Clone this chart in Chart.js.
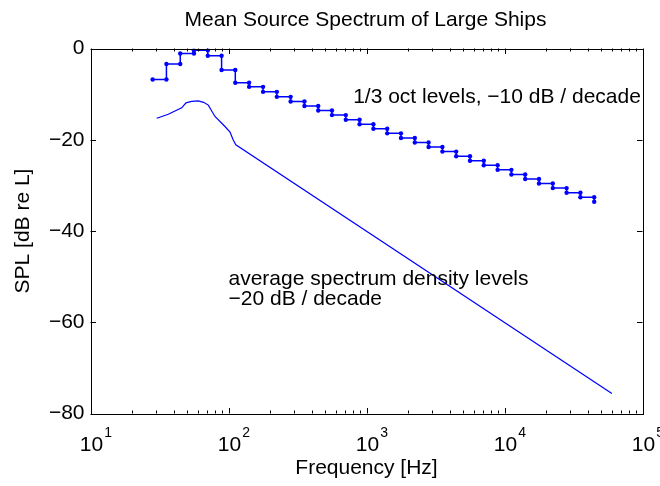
<!DOCTYPE html>
<html>
<head>
<meta charset="utf-8">
<script src="https://cdn.jsdelivr.net/npm/chart.js@4.4.1/dist/chart.umd.min.js"></script>
<style>
html,body{margin:0;padding:0;background:#ffffff;}
#wrap{width:660px;height:486px;position:relative;}
</style>
</head>
<body>
<div id="wrap"><canvas id="c" width="660" height="486"></canvas></div>
<script>
// ---- text ----
const titleText = 'Mean Source Spectrum of Large Ships';
const xAxisTitle = 'Frequency [Hz]';
const yAxisTitle = 'SPL [dB re L]';
const octLabel = '1/3 oct levels, \u221210 dB / decade';
const densityLabelLines = ['average spectrum density levels', '\u221220 dB / decade'];

// ---- ticks ----
const xTickDecades = [1, 2, 3, 4, 5];          // 10^1 ... 10^5
const yTickValues = [0, -20, -40, -60, -80];

// ---- 1/3 octave band levels (stairs: band edge, level) ----
const bandEdgesHz = [28.2, 35.5, 44.7, 56.2, 70.8, 89.1, 112, 141, 178, 224, 282, 355, 447, 562, 708, 891,
  1122, 1413, 1778, 2239, 2818, 3548, 4467, 5623, 7079, 8913, 11220, 14125, 17783, 22387, 28184, 35481, 44668];
const octLevelsDb = [-6.8, -3.4, -1.1, -0.4, -1.6, -4.7, -7.5, -8.4, -9.5, -10.6, -11.6, -12.6, -13.6, -14.6, -15.6, -16.6,
  -17.6, -18.6, -19.6, -20.6, -21.6, -22.6, -23.6, -24.6, -25.6, -26.6, -27.6, -28.6, -29.6, -30.6, -31.6, -32.6, -33.6];

// ---- average spectrum density levels ----
const densityHz = [30.2, 36.6, 45.8, 49.2, 54, 60.4, 66, 71.4, 79.8, 94.3, 102.6, 108, 113, 60000];
const densityDb = [-15.3, -14.4, -13.0, -11.9, -11.6, -11.5, -11.8, -12.4, -14.9, -17.1, -18.3, -20.0, -21.1, -75.6];

// annotation anchors (data coordinates)
const octLabelAt = {x: 800, y: -12.05};
const densityLabelAt = {x: 100, y1: -51.9, y2: -56.3};

// ---- build datasets from the arrays ----
const stairPts = [];
for (let i = 0; i < bandEdgesHz.length - 1; i++) {
  stairPts.push({x: bandEdgesHz[i], y: octLevelsDb[i]});
  stairPts.push({x: bandEdgesHz[i + 1], y: octLevelsDb[i]});
}
stairPts.push({x: bandEdgesHz[bandEdgesHz.length - 1], y: octLevelsDb[octLevelsDb.length - 1]});
const densityPts = densityHz.map((f, i) => ({x: f, y: densityDb[i]}));

const FAM = '"Liberation Sans", Arial, Helvetica, sans-serif';
const BLUE = '#0000ff';

const decor = {
  id: 'decor',
  afterDraw(chart) {
    const {ctx, chartArea: a, scales: {x, y}} = chart;
    ctx.save();
    // axes box
    ctx.strokeStyle = '#000';
    ctx.lineWidth = 1;
    ctx.strokeRect(Math.round(a.left) + 0.5, Math.round(a.top) + 0.5,
      Math.round(a.right) - Math.round(a.left), Math.round(a.bottom) - Math.round(a.top));
    // x ticks (major + minor, inward, top and bottom)
    ctx.beginPath();
    const lo = xTickDecades[0], hi = xTickDecades[xTickDecades.length - 1];
    for (let d = lo; d <= hi; d++) {
      for (let m = 1; m <= 9; m++) {
        if (d === hi && m > 1) break;
        const v = m * Math.pow(10, d);
        const px = Math.round(x.getPixelForValue(v)) + 0.5;
        const len = m === 1 ? 5.5 : 3;
        ctx.moveTo(px, a.bottom); ctx.lineTo(px, a.bottom - len);
        ctx.moveTo(px, a.top); ctx.lineTo(px, a.top + len);
      }
    }
    // y ticks inward, left and right
    yTickValues.forEach(v => {
      const py = Math.round(y.getPixelForValue(v)) + 0.5;
      ctx.moveTo(a.left, py); ctx.lineTo(a.left + 5.5, py);
      ctx.moveTo(a.right, py); ctx.lineTo(a.right - 5.5, py);
    });
    ctx.stroke();

    ctx.fillStyle = '#000';
    // x tick labels 10^k
    xTickDecades.forEach(d => {
      const px = x.getPixelForValue(Math.pow(10, d));
      ctx.font = '21px ' + FAM;
      ctx.textAlign = 'center';
      ctx.textBaseline = 'alphabetic';
      const base = '10';
      const w = ctx.measureText(base).width;
      ctx.fillText(base, px + 1, 451);
      ctx.font = '14px ' + FAM;
      ctx.textAlign = 'left';
      ctx.fillText(String(d), px + 1 + w / 2 + 1, 437);
    });

    // title
    ctx.font = '21px ' + FAM;
    ctx.textAlign = 'center';
    ctx.textBaseline = 'alphabetic';
    ctx.fillText(titleText, (a.left + a.right) / 2 - 1, 26);

    // annotations
    ctx.textAlign = 'left';
    ctx.fillText(octLabel, x.getPixelForValue(octLabelAt.x), y.getPixelForValue(octLabelAt.y));
    ctx.fillText(densityLabelLines[0], x.getPixelForValue(densityLabelAt.x), y.getPixelForValue(densityLabelAt.y1));
    ctx.fillText(densityLabelLines[1], x.getPixelForValue(densityLabelAt.x), y.getPixelForValue(densityLabelAt.y2));
    ctx.restore();
  }
};

new Chart(document.getElementById('c'), {
  type: 'scatter',
  data: {
    datasets: [
      {
        label: '1/3 oct levels',
        data: stairPts,
        showLine: true,
        borderColor: BLUE,
        backgroundColor: BLUE,
        borderWidth: 1.5,
        pointRadius: 2.2,
        pointBorderWidth: 0,
        pointBackgroundColor: BLUE,
        tension: 0
      },
      {
        label: 'average spectrum density levels',
        data: densityPts,
        showLine: true,
        borderColor: BLUE,
        backgroundColor: BLUE,
        borderWidth: 1.2,
        pointRadius: 0,
        tension: 0
      }
    ]
  },
  options: {
    responsive: false,
    devicePixelRatio: 1,
    animation: false,
    layout: {padding: {left: 0, right: 17.5, top: 48.5, bottom: 0}},
    plugins: {legend: {display: false}, tooltip: {enabled: false}, title: {display: false}},
    scales: {
      x: {
        type: 'logarithmic',
        min: 10,
        max: 100000,
        grid: {display: false, drawTicks: false},
        border: {display: false},
        ticks: {display: false},
        title: {display: true, text: xAxisTitle, color: '#000', font: {family: FAM, size: 21}, padding: {top: 0, bottom: 5.4}},
        afterFit(s) { s.height = 72.5; }
      },
      y: {
        type: 'linear',
        min: -80,
        max: 0,
        grid: {display: false, drawTicks: false},
        border: {display: false},
        ticks: {
          stepSize: 20,
          color: '#000',
          padding: 6,
          font: {family: FAM, size: 21},
          callback: v => String(v).replace('-', '\u2212')
        },
        title: {display: true, text: yAxisTitle, color: '#000', font: {family: FAM, size: 21}, padding: {top: 11, bottom: 0}},
        afterFit(s) { s.width = 90.5; }
      }
    }
  },
  plugins: [decor]
});
</script>
</body>
</html>
